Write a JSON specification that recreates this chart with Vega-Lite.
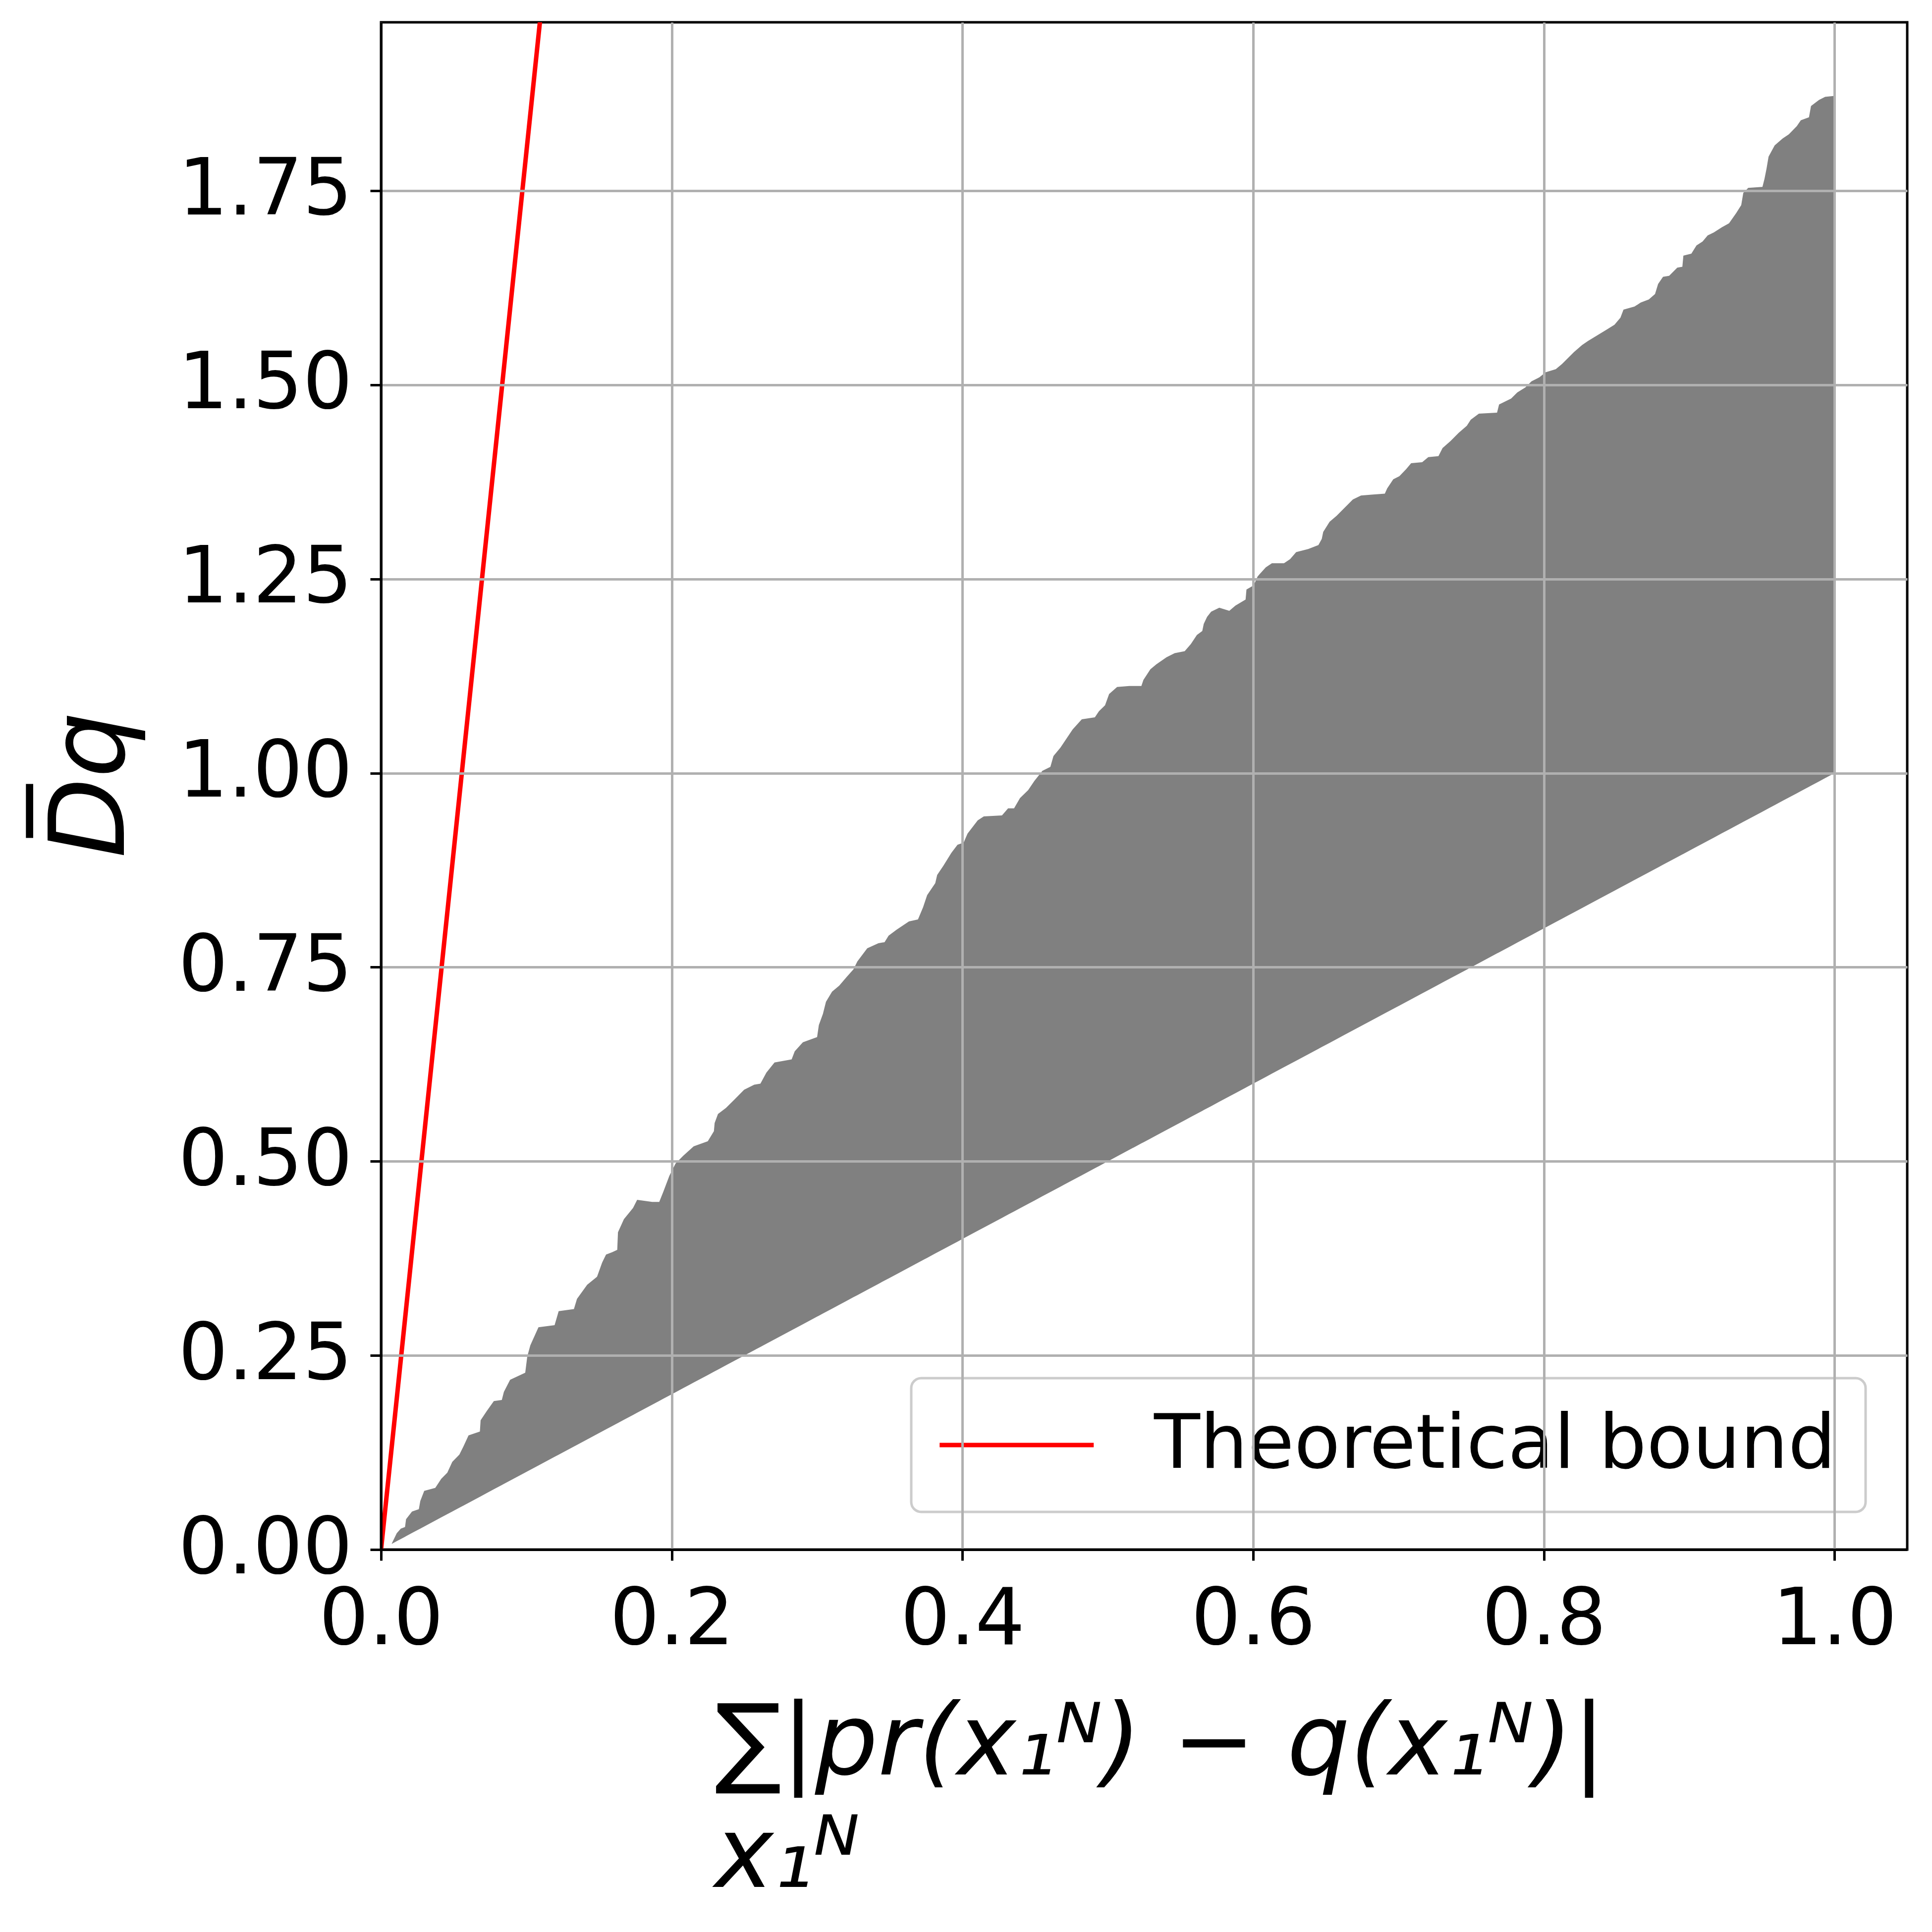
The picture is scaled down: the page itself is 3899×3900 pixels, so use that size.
{
  "$schema": "https://vega.github.io/schema/vega-lite/v6.json",
  "autosize": {"type": "none"},
  "padding": {"left": 769, "top": 45, "right": 50, "bottom": 772},
  "width": 3080,
  "height": 3083,
  "background": "white",
  "datasets": {
    "region": [
      {"x": 0.0074, "upper": 0.0078, "lower": 0.0074},
      {"x": 0.0108, "upper": 0.021, "lower": 0.0108},
      {"x": 0.0136, "upper": 0.027, "lower": 0.0136},
      {"x": 0.0165, "upper": 0.029, "lower": 0.0165},
      {"x": 0.0172, "upper": 0.039, "lower": 0.0172},
      {"x": 0.0213, "upper": 0.049, "lower": 0.0213},
      {"x": 0.026, "upper": 0.052, "lower": 0.026},
      {"x": 0.027, "upper": 0.0625, "lower": 0.027},
      {"x": 0.0297, "upper": 0.0756, "lower": 0.0297},
      {"x": 0.0373, "upper": 0.0795, "lower": 0.0373},
      {"x": 0.0414, "upper": 0.091, "lower": 0.0414},
      {"x": 0.0456, "upper": 0.099, "lower": 0.0456},
      {"x": 0.049, "upper": 0.113, "lower": 0.049},
      {"x": 0.0539, "upper": 0.1224, "lower": 0.0539},
      {"x": 0.0567, "upper": 0.1328, "lower": 0.0567},
      {"x": 0.0602, "upper": 0.147, "lower": 0.0602},
      {"x": 0.068, "upper": 0.152, "lower": 0.068},
      {"x": 0.0685, "upper": 0.1666, "lower": 0.0685},
      {"x": 0.0727, "upper": 0.1783, "lower": 0.0727},
      {"x": 0.0776, "upper": 0.1913, "lower": 0.0776},
      {"x": 0.0831, "upper": 0.1927, "lower": 0.0831},
      {"x": 0.0845, "upper": 0.203, "lower": 0.0845},
      {"x": 0.0888, "upper": 0.2187, "lower": 0.0888},
      {"x": 0.0992, "upper": 0.2278, "lower": 0.0992},
      {"x": 0.1006, "upper": 0.2486, "lower": 0.1006},
      {"x": 0.1027, "upper": 0.263, "lower": 0.1027},
      {"x": 0.1083, "upper": 0.2863, "lower": 0.1083},
      {"x": 0.1194, "upper": 0.289, "lower": 0.1194},
      {"x": 0.1222, "upper": 0.307, "lower": 0.1222},
      {"x": 0.1327, "upper": 0.3097, "lower": 0.1327},
      {"x": 0.1348, "upper": 0.3228, "lower": 0.1348},
      {"x": 0.1418, "upper": 0.341, "lower": 0.1418},
      {"x": 0.1486, "upper": 0.3514, "lower": 0.1486},
      {"x": 0.1521, "upper": 0.3696, "lower": 0.1521},
      {"x": 0.1548, "upper": 0.38, "lower": 0.1548},
      {"x": 0.159, "upper": 0.383, "lower": 0.159},
      {"x": 0.1625, "upper": 0.386, "lower": 0.1625},
      {"x": 0.163, "upper": 0.4087, "lower": 0.163},
      {"x": 0.1671, "upper": 0.4256, "lower": 0.1671},
      {"x": 0.1734, "upper": 0.44, "lower": 0.1734},
      {"x": 0.1762, "upper": 0.4504, "lower": 0.1762},
      {"x": 0.1866, "upper": 0.4478, "lower": 0.1866},
      {"x": 0.1914, "upper": 0.4478, "lower": 0.1914},
      {"x": 0.1942, "upper": 0.4608, "lower": 0.1942},
      {"x": 0.1984, "upper": 0.4816, "lower": 0.1984},
      {"x": 0.2026, "upper": 0.4972, "lower": 0.2026},
      {"x": 0.2081, "upper": 0.5076, "lower": 0.2081},
      {"x": 0.2151, "upper": 0.5193, "lower": 0.2151},
      {"x": 0.2248, "upper": 0.5259, "lower": 0.2248},
      {"x": 0.229, "upper": 0.5388, "lower": 0.229},
      {"x": 0.2295, "upper": 0.5493, "lower": 0.2295},
      {"x": 0.2318, "upper": 0.561, "lower": 0.2318},
      {"x": 0.2373, "upper": 0.5688, "lower": 0.2373},
      {"x": 0.2429, "upper": 0.5792, "lower": 0.2429},
      {"x": 0.2498, "upper": 0.5922, "lower": 0.2498},
      {"x": 0.2568, "upper": 0.5987, "lower": 0.2568},
      {"x": 0.261, "upper": 0.6, "lower": 0.261},
      {"x": 0.2651, "upper": 0.6143, "lower": 0.2651},
      {"x": 0.2707, "upper": 0.6273, "lower": 0.2707},
      {"x": 0.2825, "upper": 0.6313, "lower": 0.2825},
      {"x": 0.2846, "upper": 0.6417, "lower": 0.2846},
      {"x": 0.2902, "upper": 0.6534, "lower": 0.2902},
      {"x": 0.3, "upper": 0.66, "lower": 0.3},
      {"x": 0.3012, "upper": 0.6755, "lower": 0.3012},
      {"x": 0.304, "upper": 0.6898, "lower": 0.304},
      {"x": 0.3061, "upper": 0.7055, "lower": 0.3061},
      {"x": 0.3103, "upper": 0.7185, "lower": 0.3103},
      {"x": 0.3152, "upper": 0.7263, "lower": 0.3152},
      {"x": 0.32, "upper": 0.7367, "lower": 0.32},
      {"x": 0.325, "upper": 0.7472, "lower": 0.325},
      {"x": 0.3277, "upper": 0.7575, "lower": 0.3277},
      {"x": 0.3345, "upper": 0.7744, "lower": 0.3345},
      {"x": 0.3422, "upper": 0.781, "lower": 0.3422},
      {"x": 0.3464, "upper": 0.7822, "lower": 0.3464},
      {"x": 0.3492, "upper": 0.7907, "lower": 0.3492},
      {"x": 0.3548, "upper": 0.7985, "lower": 0.3548},
      {"x": 0.3632, "upper": 0.809, "lower": 0.3632},
      {"x": 0.3694, "upper": 0.8116, "lower": 0.3694},
      {"x": 0.3729, "upper": 0.8272, "lower": 0.3729},
      {"x": 0.3757, "upper": 0.8428, "lower": 0.3757},
      {"x": 0.3813, "upper": 0.8583, "lower": 0.3813},
      {"x": 0.3826, "upper": 0.8688, "lower": 0.3826},
      {"x": 0.3868, "upper": 0.8805, "lower": 0.3868},
      {"x": 0.3924, "upper": 0.8974, "lower": 0.3924},
      {"x": 0.3966, "upper": 0.9078, "lower": 0.3966},
      {"x": 0.4008, "upper": 0.9104, "lower": 0.4008},
      {"x": 0.4035, "upper": 0.9221, "lower": 0.4035},
      {"x": 0.4105, "upper": 0.9391, "lower": 0.4105},
      {"x": 0.4147, "upper": 0.9443, "lower": 0.4147},
      {"x": 0.4272, "upper": 0.9455, "lower": 0.4272},
      {"x": 0.4314, "upper": 0.9547, "lower": 0.4314},
      {"x": 0.4355, "upper": 0.9547, "lower": 0.4355},
      {"x": 0.4396, "upper": 0.9678, "lower": 0.4396},
      {"x": 0.4452, "upper": 0.978, "lower": 0.4452},
      {"x": 0.4494, "upper": 0.9898, "lower": 0.4494},
      {"x": 0.455, "upper": 1.003, "lower": 0.455},
      {"x": 0.4605, "upper": 1.008, "lower": 0.4605},
      {"x": 0.4626, "upper": 1.022, "lower": 0.4626},
      {"x": 0.4674, "upper": 1.0328, "lower": 0.4674},
      {"x": 0.4702, "upper": 1.0406, "lower": 0.4702},
      {"x": 0.4758, "upper": 1.0563, "lower": 0.4758},
      {"x": 0.4821, "upper": 1.0693, "lower": 0.4821},
      {"x": 0.4911, "upper": 1.0718, "lower": 0.4911},
      {"x": 0.4939, "upper": 1.0797, "lower": 0.4939},
      {"x": 0.4981, "upper": 1.0874, "lower": 0.4981},
      {"x": 0.5009, "upper": 1.1018, "lower": 0.5009},
      {"x": 0.5064, "upper": 1.111, "lower": 0.5064},
      {"x": 0.5148, "upper": 1.1122, "lower": 0.5148},
      {"x": 0.5231, "upper": 1.1122, "lower": 0.5231},
      {"x": 0.5245, "upper": 1.12, "lower": 0.5245},
      {"x": 0.5293, "upper": 1.1337, "lower": 0.5293},
      {"x": 0.5334, "upper": 1.1402, "lower": 0.5334},
      {"x": 0.5404, "upper": 1.1493, "lower": 0.5404},
      {"x": 0.546, "upper": 1.1545, "lower": 0.546},
      {"x": 0.5529, "upper": 1.157, "lower": 0.5529},
      {"x": 0.5571, "upper": 1.1662, "lower": 0.5571},
      {"x": 0.5613, "upper": 1.178, "lower": 0.5613},
      {"x": 0.565, "upper": 1.1831, "lower": 0.565},
      {"x": 0.566, "upper": 1.1922, "lower": 0.566},
      {"x": 0.5683, "upper": 1.2013, "lower": 0.5683},
      {"x": 0.5711, "upper": 1.2079, "lower": 0.5711},
      {"x": 0.5767, "upper": 1.2131, "lower": 0.5767},
      {"x": 0.5836, "upper": 1.2091, "lower": 0.5836},
      {"x": 0.5878, "upper": 1.2157, "lower": 0.5878},
      {"x": 0.5948, "upper": 1.2235, "lower": 0.5948},
      {"x": 0.5954, "upper": 1.2365, "lower": 0.5954},
      {"x": 0.6003, "upper": 1.2417, "lower": 0.6003},
      {"x": 0.6031, "upper": 1.2534, "lower": 0.6031},
      {"x": 0.6087, "upper": 1.265, "lower": 0.6087},
      {"x": 0.6129, "upper": 1.2703, "lower": 0.6129},
      {"x": 0.6212, "upper": 1.2703, "lower": 0.6212},
      {"x": 0.6254, "upper": 1.2755, "lower": 0.6254},
      {"x": 0.6296, "upper": 1.2846, "lower": 0.6296},
      {"x": 0.6379, "upper": 1.2886, "lower": 0.6379},
      {"x": 0.6449, "upper": 1.2937, "lower": 0.6449},
      {"x": 0.6472, "upper": 1.3015, "lower": 0.6472},
      {"x": 0.6482, "upper": 1.3106, "lower": 0.6482},
      {"x": 0.6526, "upper": 1.3237, "lower": 0.6526},
      {"x": 0.6575, "upper": 1.3315, "lower": 0.6575},
      {"x": 0.663, "upper": 1.3419, "lower": 0.663},
      {"x": 0.6686, "upper": 1.3524, "lower": 0.6686},
      {"x": 0.6742, "upper": 1.3575, "lower": 0.6742},
      {"x": 0.6825, "upper": 1.3588, "lower": 0.6825},
      {"x": 0.6906, "upper": 1.36, "lower": 0.6906},
      {"x": 0.6922, "upper": 1.3667, "lower": 0.6922},
      {"x": 0.6964, "upper": 1.3784, "lower": 0.6964},
      {"x": 0.7006, "upper": 1.3824, "lower": 0.7006},
      {"x": 0.7052, "upper": 1.3913, "lower": 0.7052},
      {"x": 0.7087, "upper": 1.3992, "lower": 0.7087},
      {"x": 0.7163, "upper": 1.4005, "lower": 0.7163},
      {"x": 0.7205, "upper": 1.407, "lower": 0.7205},
      {"x": 0.7275, "upper": 1.4083, "lower": 0.7275},
      {"x": 0.7303, "upper": 1.4187, "lower": 0.7303},
      {"x": 0.7359, "upper": 1.4278, "lower": 0.7359},
      {"x": 0.7414, "upper": 1.4382, "lower": 0.7414},
      {"x": 0.747, "upper": 1.4473, "lower": 0.747},
      {"x": 0.7497, "upper": 1.4551, "lower": 0.7497},
      {"x": 0.7553, "upper": 1.4629, "lower": 0.7553},
      {"x": 0.7678, "upper": 1.4642, "lower": 0.7678},
      {"x": 0.7692, "upper": 1.4747, "lower": 0.7692},
      {"x": 0.7775, "upper": 1.4825, "lower": 0.7775},
      {"x": 0.7817, "upper": 1.4903, "lower": 0.7817},
      {"x": 0.7873, "upper": 1.4968, "lower": 0.7873},
      {"x": 0.7915, "upper": 1.5046, "lower": 0.7915},
      {"x": 0.797, "upper": 1.5098, "lower": 0.797},
      {"x": 0.8012, "upper": 1.5163, "lower": 0.8012},
      {"x": 0.8082, "upper": 1.5202, "lower": 0.8082},
      {"x": 0.8124, "upper": 1.5267, "lower": 0.8124},
      {"x": 0.8165, "upper": 1.5345, "lower": 0.8165},
      {"x": 0.8207, "upper": 1.5423, "lower": 0.8207},
      {"x": 0.8263, "upper": 1.5514, "lower": 0.8263},
      {"x": 0.8304, "upper": 1.5566, "lower": 0.8304},
      {"x": 0.8374, "upper": 1.5645, "lower": 0.8374},
      {"x": 0.843, "upper": 1.571, "lower": 0.843},
      {"x": 0.8486, "upper": 1.5775, "lower": 0.8486},
      {"x": 0.8527, "upper": 1.5866, "lower": 0.8527},
      {"x": 0.8548, "upper": 1.597, "lower": 0.8548},
      {"x": 0.8624, "upper": 1.6009, "lower": 0.8624},
      {"x": 0.8666, "upper": 1.6061, "lower": 0.8666},
      {"x": 0.8722, "upper": 1.61, "lower": 0.8722},
      {"x": 0.8765, "upper": 1.6171, "lower": 0.8765},
      {"x": 0.8786, "upper": 1.63, "lower": 0.8786},
      {"x": 0.882, "upper": 1.6392, "lower": 0.882},
      {"x": 0.8862, "upper": 1.6405, "lower": 0.8862},
      {"x": 0.8918, "upper": 1.651, "lower": 0.8918},
      {"x": 0.8953, "upper": 1.6522, "lower": 0.8953},
      {"x": 0.896, "upper": 1.6665, "lower": 0.896},
      {"x": 0.9015, "upper": 1.6691, "lower": 0.9015},
      {"x": 0.905, "upper": 1.6795, "lower": 0.905},
      {"x": 0.9092, "upper": 1.6847, "lower": 0.9092},
      {"x": 0.9127, "upper": 1.6925, "lower": 0.9127},
      {"x": 0.9169, "upper": 1.6964, "lower": 0.9169},
      {"x": 0.9225, "upper": 1.703, "lower": 0.9225},
      {"x": 0.9274, "upper": 1.7082, "lower": 0.9274},
      {"x": 0.9323, "upper": 1.7212, "lower": 0.9323},
      {"x": 0.9358, "upper": 1.7316, "lower": 0.9358},
      {"x": 0.9372, "upper": 1.7472, "lower": 0.9372},
      {"x": 0.9406, "upper": 1.7537, "lower": 0.9406},
      {"x": 0.9504, "upper": 1.755, "lower": 0.9504},
      {"x": 0.9518, "upper": 1.7654, "lower": 0.9518},
      {"x": 0.9532, "upper": 1.7784, "lower": 0.9532},
      {"x": 0.9546, "upper": 1.794, "lower": 0.9546},
      {"x": 0.9588, "upper": 1.8084, "lower": 0.9588},
      {"x": 0.9643, "upper": 1.8174, "lower": 0.9643},
      {"x": 0.9685, "upper": 1.8227, "lower": 0.9685},
      {"x": 0.974, "upper": 1.8331, "lower": 0.974},
      {"x": 0.9768, "upper": 1.8409, "lower": 0.9768},
      {"x": 0.9824, "upper": 1.8447, "lower": 0.9824},
      {"x": 0.9838, "upper": 1.8591, "lower": 0.9838},
      {"x": 0.9893, "upper": 1.867, "lower": 0.9893},
      {"x": 0.9935, "upper": 1.8709, "lower": 0.9935},
      {"x": 1.0, "upper": 1.8722, "lower": 1.0}
    ],
    "bound": [
      {"x": 0.0, "y": 0.0, "series": "Theoretical bound"},
      {"x": 0.11, "y": 1.98, "series": "Theoretical bound"}
    ]
  },
  "layer": [
    {
      "data": {"name": "region"},
      "mark": {"type": "area", "color": "#808080", "opacity": 1, "clip": true},
      "encoding": {
        "x": {
          "field": "x",
          "type": "quantitative",
          "scale": {"domain": [0, 1.05], "nice": false, "zero": false},
          "axis": {
            "values": [0, 0.2, 0.4, 0.6, 0.8, 1.0],
            "format": ".1f",
            "labelPadding": 43,
            "labelFlush": false,
            "labelOverlap": false,
            "labelLimit": 0,
            "zindex": 1,
            "title": ["∑|pr(x₁ᴺ) − q(x₁ᴺ)|", "x₁ᴺ"],
            "titleFontSize": 200,
            "titleFontStyle": "italic",
            "titleFontWeight": "normal",
            "titleAlign": "left",
            "titleBaseline": "alphabetic",
            "titleAngle": 0,
            "titleX": 673,
            "titleY": 453,
            "titleLineHeight": 227,
            "titleLimit": 0
          }
        },
        "y": {
          "field": "upper",
          "type": "quantitative",
          "scale": {"domain": [0, 1.967], "nice": false, "zero": false},
          "axis": {
            "values": [0, 0.25, 0.5, 0.75, 1.0, 1.25, 1.5, 1.75],
            "format": ".2f",
            "labelPadding": 36,
            "labelOverlap": false,
            "labelLimit": 0,
            "zindex": 1,
            "title": "D̅q",
            "titleFontSize": 210,
            "titleFontStyle": "italic",
            "titleFontWeight": "normal",
            "titleAngle": -90,
            "titleAlign": "center",
            "titleBaseline": "alphabetic",
            "titleX": -520,
            "titleY": 1539,
            "titleLimit": 0
          }
        },
        "y2": {"field": "lower"}
      }
    },
    {
      "data": {"name": "bound"},
      "mark": {"type": "line", "strokeWidth": 9, "clip": true},
      "encoding": {
        "x": {"field": "x", "type": "quantitative"},
        "y": {"field": "y", "type": "quantitative"},
        "color": {
          "field": "series",
          "type": "nominal",
          "scale": {"domain": ["Theoretical bound"], "range": ["#ff0000"]},
          "legend": {
            "orient": "none",
            "legendX": 1070,
            "legendY": 2737,
            "title": null,
            "symbolType": "M-2,0H6",
            "symbolSize": 6045,
            "symbolStrokeWidth": 9,
            "labelFontSize": 152,
            "labelOffset": 279,
            "labelLimit": 0,
            "labelColor": "black",
            "padding": 59,
            "strokeColor": "#cccccc",
            "fillColor": "rgba(255,255,255,0.8)",
            "cornerRadius": 20
          }
        }
      }
    }
  ],
  "config": {
    "font": "DejaVu Sans",
    "view": {"stroke": "black", "strokeWidth": 5},
    "axis": {
      "domainColor": "black",
      "domainWidth": 5,
      "tickColor": "black",
      "tickWidth": 5,
      "tickSize": 22,
      "labelFontSize": 158,
      "labelColor": "black",
      "labelFont": "DejaVu Sans",
      "titleColor": "black",
      "titleFont": "DejaVu Sans",
      "grid": true,
      "gridColor": "#b0b0b0",
      "gridWidth": 5
    },
    "legend": {"strokeWidth": 5, "labelFont": "DejaVu Sans"}
  }
}
